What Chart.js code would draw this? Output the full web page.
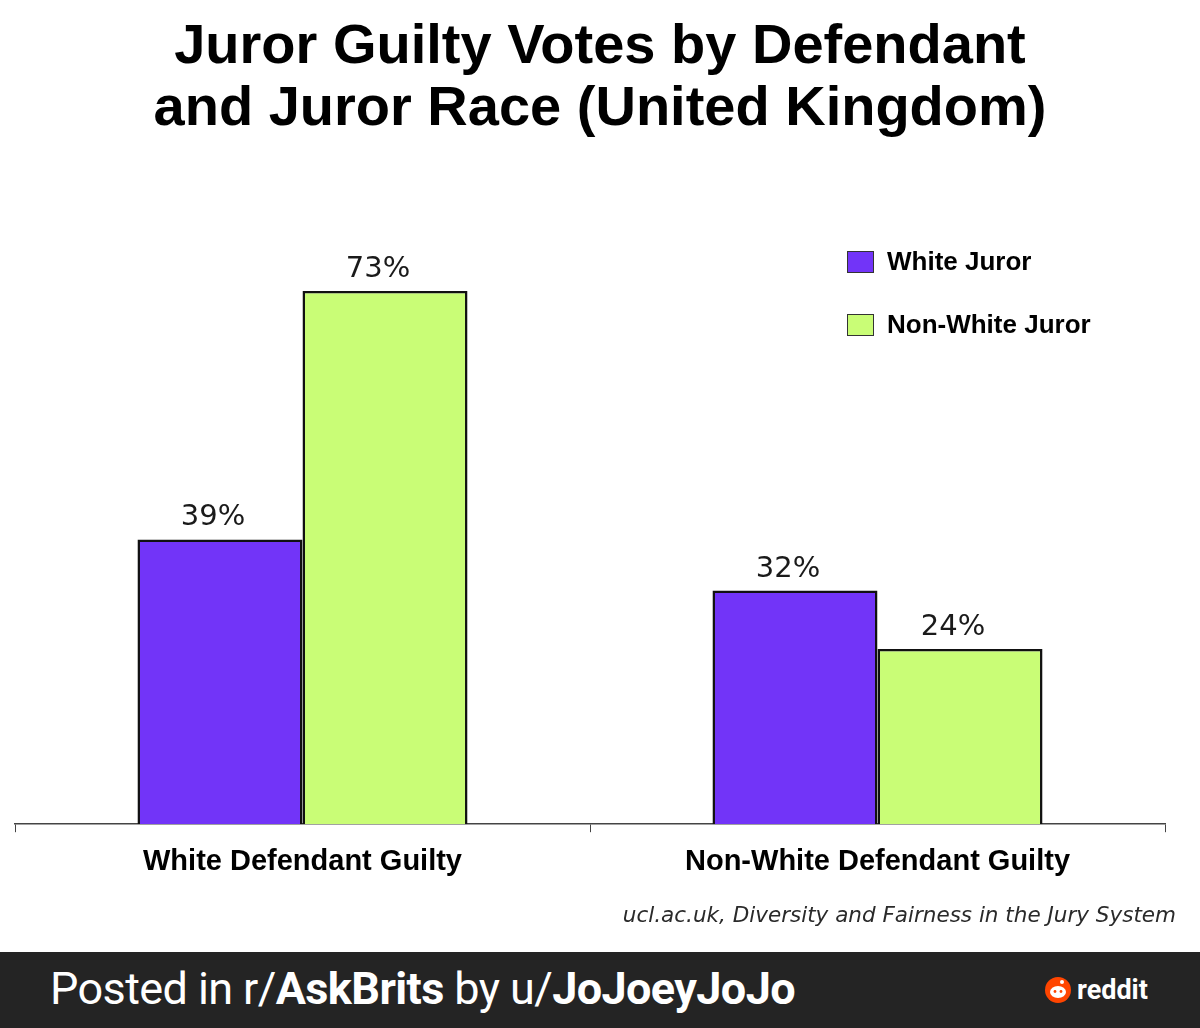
<!DOCTYPE html>
<html>
<head>
<meta charset="utf-8">
<script src="https://cdn.jsdelivr.net/npm/chart.js@4"></script>
<style>
  html, body { margin: 0; padding: 0; background: #fff; }
  #wrap { position: relative; width: 1200px; height: 1028px; overflow: hidden; }
  #chart { position: absolute; left: 0; top: 0; }
  #title {
    position: absolute; left: 0; top: 13px; width: 1200px; text-align: center;
    font: bold 56px "Liberation Sans", Arial, sans-serif; line-height: 61.6px; color: #000;
  }
  #source {
    position: absolute; right: 24px; top: 902px;
    font: oblique 21.5px "DejaVu Sans", sans-serif; color: #2a2a2a;
  }
  #banner {
    position: absolute; left: 0; top: 952px; width: 1200px; height: 76px;
    background: #242424; color: #fff;
  }
  #posted {
    position: absolute; left: 50px; top: 10px;
    font: 45px Roboto, sans-serif; letter-spacing: -0.6px;
  }
  #posted b { font-weight: 700; }
  #reddit {
    position: absolute; left: 1044px; top: 22px;
    font: 700 27px Roboto, sans-serif; display: flex; align-items: center;
  }
  #reddit svg { margin-right: 5px; }
</style>
</head>
<body>
<div id="wrap">
  <canvas id="chart" width="1200" height="952"></canvas>
  <div id="title">Juror Guilty Votes by Defendant<br>and Juror Race (United Kingdom)</div>
  <div id="source">ucl.ac.uk, Diversity and Fairness in the Jury System</div>
  <div id="banner">
    <div id="posted">Posted in r/<b>AskBrits</b> by u/<b>JoJoeyJoJo</b></div>
    <div id="reddit">
      <svg width="28" height="28" viewBox="0 0 28 28">
        <circle cx="14" cy="14" r="13" fill="#ff4500"/>
        <ellipse cx="14" cy="16" rx="8" ry="6" fill="#fff"/>
        <circle cx="11" cy="15.5" r="1.4" fill="#ff4500"/>
        <circle cx="17" cy="15.5" r="1.4" fill="#ff4500"/>
        <circle cx="18" cy="6" r="2" fill="#fff"/>
      </svg>reddit
    </div>
  </div>
</div>
<script>
const categories = ["White Defendant Guilty", "Non-White Defendant Guilty"];
const seriesLabels = ["White Juror", "Non-White Juror"];
const whiteJurorVotes = [39, 32];
const nonWhiteJurorVotes = [73, 24];

const PURPLE = "#7234f8";
const GREEN = "#c9fd76";

// percentage labels sit a little left of the bar centre, as in the original
const valueLabels = {
  id: "valueLabels",
  afterDatasetsDraw(chart) {
    const ctx = chart.ctx;
    ctx.save();
    ctx.font = '29px "DejaVu Sans", sans-serif';
    ctx.fillStyle = "#1a1a1a";
    ctx.textAlign = "center";
    ctx.textBaseline = "alphabetic";
    chart.data.datasets.forEach((ds, i) => {
      chart.getDatasetMeta(i).data.forEach((bar, j) => {
        ctx.fillText(ds.data[j] + "%", bar.x - 7, bar.y - 14);
      });
    });
    ctx.restore();
  },
};

const boxLegend = {
  id: "boxLegend",
  afterDraw(chart) {
    const ctx = chart.ctx;
    ctx.save();
    ctx.font = 'bold 26px "Liberation Sans", Arial, sans-serif';
    ctx.textBaseline = "middle";
    chart.data.datasets.forEach((ds, i) => {
      const y = 262 + i * 63;
      ctx.fillStyle = ds.backgroundColor;
      ctx.fillRect(847, y - 11, 27, 22);
      ctx.strokeStyle = "#333";
      ctx.lineWidth = 1;
      ctx.strokeRect(847.5, y - 10.5, 26, 21);
      ctx.fillStyle = "#000";
      ctx.fillText(ds.label, 887, y + 1);
    });
    ctx.restore();
  },
};

new Chart(document.getElementById("chart"), {
  type: "bar",
  data: {
    labels: categories,
    datasets: [
      {
        label: seriesLabels[0],
        data: whiteJurorVotes,
        backgroundColor: PURPLE,
        borderColor: "#111",
        borderWidth: 2.5,
      },
      {
        label: seriesLabels[1],
        data: nonWhiteJurorVotes,
        backgroundColor: GREEN,
        borderColor: "#111",
        borderWidth: 2.5,
      },
    ],
  },
  options: {
    responsive: false,
    animation: false,
    layout: { padding: { left: 15, right: 35, top: 240, bottom: 61 } },
    datasets: { bar: { categoryPercentage: 0.574, barPercentage: 1.0 } },
    plugins: {
      legend: { display: false },
      tooltip: { enabled: false },
      title: { display: false },
    },
    scales: {
      x: {
        grid: { display: true, drawOnChartArea: false, tickLength: 8, color: "#444", offset: true },
        border: { display: true, color: "#444", width: 1.5 },
        ticks: {
          color: "#000",
          padding: 12,
          font: { family: '"Liberation Sans", Arial, sans-serif', size: 29, weight: "bold" },
        },
      },
      y: { display: false, min: 0, max: 80 },
    },
  },
  plugins: [valueLabels, boxLegend],
});
</script>
</body>
</html>
